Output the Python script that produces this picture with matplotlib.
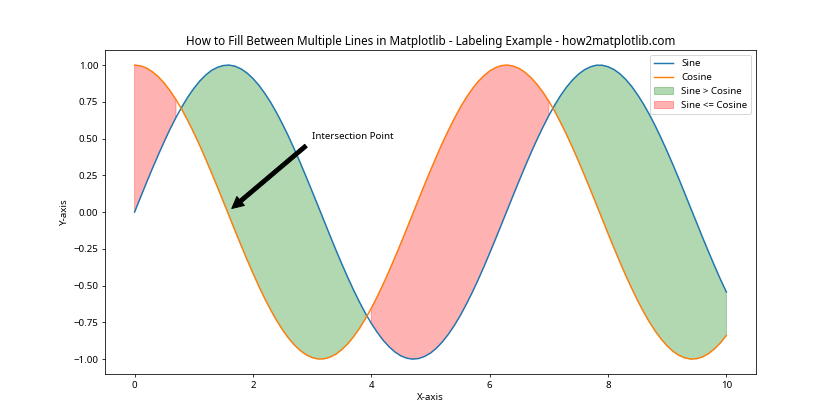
import numpy as np
import matplotlib
matplotlib.use('Agg')
import matplotlib.pyplot as plt

plt.rcParams['font.family'] = ['Noto Sans', 'DejaVu Sans']

# données (pas de 0.1)
x = [round(0.1 * i, 1) for i in range(101)]
sine = [0.000, 0.100, 0.199, 0.296, 0.389, 0.479, 0.565, 0.644, 0.717, 0.783,
        0.841, 0.891, 0.932, 0.964, 0.985, 0.997, 1.000, 0.992, 0.974, 0.946,
        0.909, 0.863, 0.808, 0.746, 0.675, 0.598, 0.516, 0.427, 0.335, 0.239,
        0.141, 0.042, -0.058, -0.158, -0.256, -0.351, -0.443, -0.530, -0.612, -0.688,
        -0.757, -0.818, -0.872, -0.916, -0.952, -0.978, -0.994, -1.000, -0.996, -0.982,
        -0.959, -0.926, -0.883, -0.832, -0.773, -0.706, -0.631, -0.551, -0.465, -0.374,
        -0.279, -0.182, -0.083, 0.017, 0.117, 0.215, 0.312, 0.405, 0.494, 0.578,
        0.657, 0.729, 0.794, 0.851, 0.899, 0.938, 0.968, 0.988, 0.999, 0.999,
        0.989, 0.970, 0.941, 0.902, 0.855, 0.798, 0.734, 0.663, 0.585, 0.501,
        0.412, 0.319, 0.223, 0.124, 0.024, -0.075, -0.175, -0.272, -0.366, -0.458,
        -0.544]
cosine = [1.000, 0.995, 0.980, 0.955, 0.921, 0.878, 0.825, 0.765, 0.697, 0.622,
          0.540, 0.454, 0.362, 0.267, 0.170, 0.071, -0.029, -0.129, -0.227, -0.323,
          -0.416, -0.505, -0.589, -0.666, -0.737, -0.801, -0.857, -0.904, -0.942, -0.971,
          -0.990, -0.999, -0.998, -0.987, -0.967, -0.936, -0.897, -0.848, -0.791, -0.726,
          -0.654, -0.575, -0.490, -0.401, -0.307, -0.211, -0.112, -0.012, 0.088, 0.187,
          0.284, 0.378, 0.469, 0.554, 0.635, 0.709, 0.776, 0.835, 0.886, 0.927,
          0.960, 0.983, 0.997, 1.000, 0.993, 0.977, 0.950, 0.914, 0.869, 0.816,
          0.754, 0.685, 0.608, 0.526, 0.439, 0.347, 0.252, 0.154, 0.055, -0.045,
          -0.146, -0.244, -0.339, -0.432, -0.519, -0.602, -0.679, -0.749, -0.811, -0.865,
          -0.911, -0.948, -0.975, -0.992, -1.000, -0.997, -0.985, -0.962, -0.930, -0.889,
          -0.839]

x = np.array(x)
sine = np.array(sine)
cosine = np.array(cosine)

fig, ax = plt.subplots(figsize=(12, 6), dpi=70)
ax.plot(x, sine, label='Sine')
ax.plot(x, cosine, label='Cosine')
ax.fill_between(x, sine, cosine, where=(sine > cosine), color='green', alpha=0.3, label='Sine > Cosine')
ax.fill_between(x, sine, cosine, where=(sine <= cosine), color='red', alpha=0.3, label='Sine <= Cosine')

ax.annotate('Intersection Point', xy=(1.57, 0.0), xytext=(3, 0.5),
            arrowprops=dict(facecolor='black', shrink=0.05))

ax.set_title('How to Fill Between Multiple Lines in Matplotlib - Labeling Example - how2matplotlib.com')
ax.set_xlabel('X-axis')
ax.set_ylabel('Y-axis')
ax.legend()

plt.savefig('out.png')
